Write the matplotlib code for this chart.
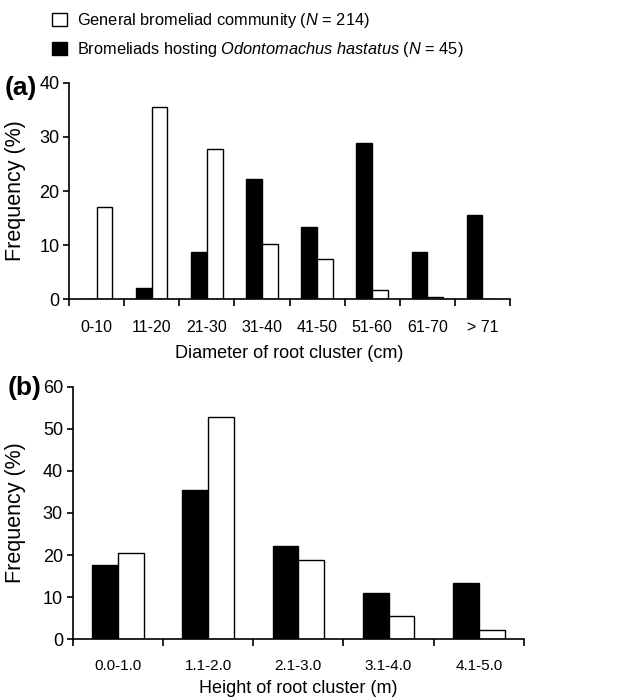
import matplotlib
matplotlib.use("Agg")
import matplotlib.pyplot as plt
import numpy as np
from matplotlib.patches import Patch

plt.rcParams["font.family"] = ["Liberation Sans", "DejaVu Sans"]
plt.rcParams["mathtext.fontset"] = "custom"
plt.rcParams["mathtext.rm"] = "Liberation Sans"
plt.rcParams["mathtext.it"] = "Liberation Sans:italic"

# panel (a): diameter of root cluster
diam_labels = ["0-10", "11-20", "21-30", "31-40", "41-50", "51-60", "61-70", "> 71"]
diam_general = [17.0, 35.6, 27.8, 10.3, 7.5, 1.8, 0.4, 0.0]
diam_hosting = [0.0, 2.1, 8.8, 22.2, 13.4, 28.9, 8.8, 15.5]

# panel (b): height of root cluster
height_labels = ["0.0-1.0", "1.1-2.0", "2.1-3.0", "3.1-4.0", "4.1-5.0"]
height_general = [20.5, 52.8, 18.8, 5.6, 2.3]
height_hosting = [17.7, 35.5, 22.2, 11.1, 13.4]

BAR_W = 0.285


def draw_panel(ax, labels, general, hosting, ymax, xlabel, xtick_size, xtick_pad, xlabel_pad):
    x = np.arange(len(labels))
    ax.bar(x - BAR_W / 2, hosting, width=BAR_W, color="black", edgecolor="black", linewidth=1.0)
    ax.bar(x + BAR_W / 2, general, width=BAR_W, color="white", edgecolor="black", linewidth=1.0)
    ax.set_xlim(-0.5, len(labels) - 0.5)
    ax.set_ylim(0, ymax)
    ax.set_yticks(np.arange(0, ymax + 1, 10))
    ax.set_xticks(np.arange(len(labels) + 1) - 0.5)
    ax.set_xticklabels([])
    ax.set_xticks(x, minor=True)
    ax.set_xticklabels(labels, minor=True)
    ax.tick_params(axis="x", which="major", direction="out", length=5, width=1.2)
    ax.tick_params(axis="x", which="minor", length=0, pad=xtick_pad, labelsize=xtick_size)
    ax.tick_params(axis="y", direction="out", length=4, width=1.2, pad=3, labelsize=13)
    for side in ("top", "right"):
        ax.spines[side].set_visible(False)
    for side in ("left", "bottom"):
        ax.spines[side].set_linewidth(1.2)
    ax.set_ylabel("Frequency (%)", fontsize=15.5)
    ax.set_xlabel(xlabel, fontsize=13, labelpad=xlabel_pad)


fig = plt.figure(figsize=(6.25, 6.99), dpi=100)
ax_a = fig.add_axes([0.1104, 0.5718, 0.7056, 0.3099])
ax_b = fig.add_axes([0.1163, 0.0854, 0.7220, 0.3614])

draw_panel(ax_a, diam_labels, diam_general, diam_hosting, 40, "Diameter of root cluster (cm)", 11.5, 15, 7)
draw_panel(ax_b, height_labels, height_general, height_hosting, 60, "Height of root cluster (m)", 11, 14, 5)
ax_a.yaxis.set_label_coords((26 - 69) / 441, 0.5)
ax_b.yaxis.set_label_coords((26 - 72.7) / 451, 0.5)

fig.text(0.008, 1 - 88 / 699, "(a)", fontsize=19, fontweight="bold", va="center")
fig.text(0.012, 1 - 388 / 699, "(b)", fontsize=19, fontweight="bold", va="center")

handles = [
    Patch(facecolor="white", edgecolor="black", linewidth=1.0),
    Patch(facecolor="black", edgecolor="black", linewidth=1.0),
]
texts = [
    r"General bromeliad community ($N$ = 214)",
    r"Bromeliads hosting $\mathit{Odontomachus\ hastatus}$ ($N$ = 45)",
]
fig.legend(handles, texts, loc="upper left", bbox_to_anchor=(0.068, 0.998), frameon=False,
           fontsize=11.8, handlelength=0.9, handleheight=0.9, handletextpad=0.6, labelspacing=0.6,
           borderaxespad=0.2)

fig.savefig("out.png", dpi=100)
